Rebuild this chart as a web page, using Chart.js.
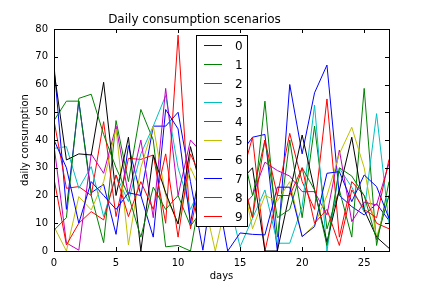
<!DOCTYPE html>
<html><head><meta charset="utf-8">
<script src="https://cdn.jsdelivr.net/npm/chart.js@4"></script>
<style>html,body{margin:0;padding:0;background:#fff}canvas{display:block}</style>
</head><body>
<div style="width:432px;height:288px"><canvas id="c" width="432" height="288"></canvas></div>
<script>
const days = [0,1,2,3,4,5,6,7,8,9,10,11,12,13,14,15,16,17,18,19,20,21,22,23,24,25,26,27];
const s0 = [67,15,54,21,24,6,38,20,45,45,50,25,0.3,30,40,35,41,42,0,60,35,57,67,20,16,13,17,11];
const s1 = [47,54,54,20,3,47,25,51,40,1.5,2,0,25,30,20,28,12,54,5,40,12,45,8,22,5,58.6,2,25];
const s2 = [47,22.6,23.2,20,46.6,12.4,33.4,33,34.6,10,77.8,8,30,20,35,25,41,0,20,42.4,25,15,54.8,5,25,20,10,8];
const s3 = [37,37.6,22.6,30.4,12.4,27.4,17.8,35,45,56,30,15,25,30,20,1.5,11.8,22,2.8,2.8,16,52.6,0,29.8,23,14,49.5,10];
const s4 = [38,2.9,0.3,35,28,45,20,40,12,58.6,20,40,35,20,25,15,20,32,29,27,21.4,21.4,13,36.4,10.6,17.6,16.6,31.6];
const s5 = [8.8,0,19.6,14.8,25,44,2.2,30,45,20,10,30,20,0,20,30,8,20,18,25,5.2,9.4,20,35,44.6,30,5,20];
const s6 = [65,32.8,35,34.6,60.8,20,41,0,34.6,21,9.7,37.6,20,35,15,25,30,0,0,21,41.8,22,3.2,22,41,14.8,5,1];
const s7 = [40,30,10,25,20,15,21,20,5,51,44,10,35,25,0,6.5,6,5.8,23,23,5.2,8.8,28,28.6,17.8,27.4,23.2,11.8];
const s8 = [7.5,12,55,56.5,42,30,20,5,23,15,20,9,15,20,30,40,20,40,12,15,30,22,2,30,27,20,4,20];
const s9 = [26,2.2,10,14.2,11.2,27.4,12.4,25,15,35,5,35,25,40,15,30,12,40,20,20,30,10,15,2,22,15,12,33];
const seriesNames = ['0','1','2','3','4','5','6','7','8','9'];
const seriesValues = [s0,s1,s2,s3,s4,s5,s6,s7,s8,s9];
const colors = ['#0000ff','#008000','#ff0000','#00bfbf','#bf00bf','#bfbf00','#000000','#0000ff','#008000','#ff0000'];
const xTicks = [0,5,10,15,20,25];
const yTicks = [0,10,20,30,40,50,60,70,80];
const titleText = 'Daily consumption scenarios';
const xLabel = 'days';
const yLabel = 'daily consumption';

const FONT = 'DejaVu Sans';

const datasets = seriesValues.map((vals, i) => ({
  label: seriesNames[i],
  data: days.map((d, j) => ({x: d, y: vals[j]})),
  borderColor: colors[i],
  backgroundColor: colors[i],
  borderWidth: 1,
  pointRadius: 0,
  tension: 0,
  fill: false,
  order: seriesValues.length - 1 - i
}));

const decor = {
  id: 'decor',
  afterDatasetsDraw(chart) {
    const ctx = chart.ctx;
    ctx.save();
    const bx = 196.5, by = 35.5, bw = 51, bh = 191;
    ctx.fillStyle = '#fff';
    ctx.fillRect(bx, by, bw, bh);
    ctx.strokeStyle = '#000';
    ctx.lineWidth = 1;
    ctx.strokeRect(bx, by, bw, bh);
    ctx.font = '12px "' + FONT + '"';
    ctx.textBaseline = 'middle';
    ctx.textAlign = 'left';
    seriesNames.forEach((n, i) => {
      const yy = 45.5 + i * 19;
      ctx.strokeStyle = colors[i];
      ctx.beginPath();
      ctx.moveTo(204, yy);
      ctx.lineTo(222, yy);
      ctx.stroke();
      ctx.fillStyle = '#000';
      ctx.fillText(n, 235, yy + 1);
    });
    ctx.restore();
  },
  afterDraw(chart) {
    const {ctx, chartArea: {left, top, right, bottom}, scales: {x, y}} = chart;
    ctx.save();
    ctx.strokeStyle = '#000';
    ctx.lineWidth = 1;
    ctx.beginPath();
    xTicks.forEach(t => {
      const px = Math.round(x.getPixelForValue(t)) + 0.5;
      ctx.moveTo(px, bottom); ctx.lineTo(px, bottom - 4);
      ctx.moveTo(px, top); ctx.lineTo(px, top + 4);
    });
    yTicks.forEach(t => {
      const py = Math.round(y.getPixelForValue(t)) + 0.5;
      ctx.moveTo(left, py); ctx.lineTo(left + 4, py);
      ctx.moveTo(right, py); ctx.lineTo(right - 4, py);
    });
    ctx.stroke();
    ctx.strokeRect(Math.round(left) + 0.5, Math.round(top) + 0.5, Math.round(right - left), Math.round(bottom - top));
    ctx.restore();
  }
};

Chart.defaults.color = '#000';
Chart.defaults.font.family = FONT;

new Chart(document.getElementById('c'), {
  type: 'line',
  data: { datasets },
  options: {
    responsive: false,
    animation: false,
    devicePixelRatio: 1,
    layout: { padding: { left: 0, right: 43, top: 0, bottom: 0 } },
    plugins: {
      legend: { display: false },
      tooltip: { enabled: false },
      title: {
        display: true, text: titleText, color: '#000',
        font: { family: FONT, size: 12, weight: 'normal' },
        padding: { top: 12.5, bottom: 2.1 }
      }
    },
    scales: {
      x: {
        type: 'linear', min: 0, max: 27,
        afterFit: s => { s.height = 37; },
        afterBuildTicks: s => { s.ticks = xTicks.map(v => ({value: v})); },
        grid: { display: false, drawTicks: false },
        border: { display: false },
        ticks: { font: { size: 10, family: FONT }, color: '#000', padding: 6, maxRotation: 0 },
        title: { display: true, text: xLabel, color: '#000', font: { size: 10, family: FONT }, padding: { top: 0, bottom: 6 } }
      },
      y: {
        type: 'linear', min: 0, max: 80,
        afterFit: s => { s.width = 54; },
        afterBuildTicks: s => { s.ticks = yTicks.map(v => ({value: v})); },
        grid: { display: false, drawTicks: false },
        border: { display: false },
        ticks: { font: { size: 10, family: FONT }, color: '#000', padding: 6 },
        title: { display: true, text: yLabel, color: '#000', font: { size: 10, family: FONT }, padding: { top: 19, bottom: 0 } }
      }
    }
  },
  plugins: [decor]
});
</script>
</body></html>
